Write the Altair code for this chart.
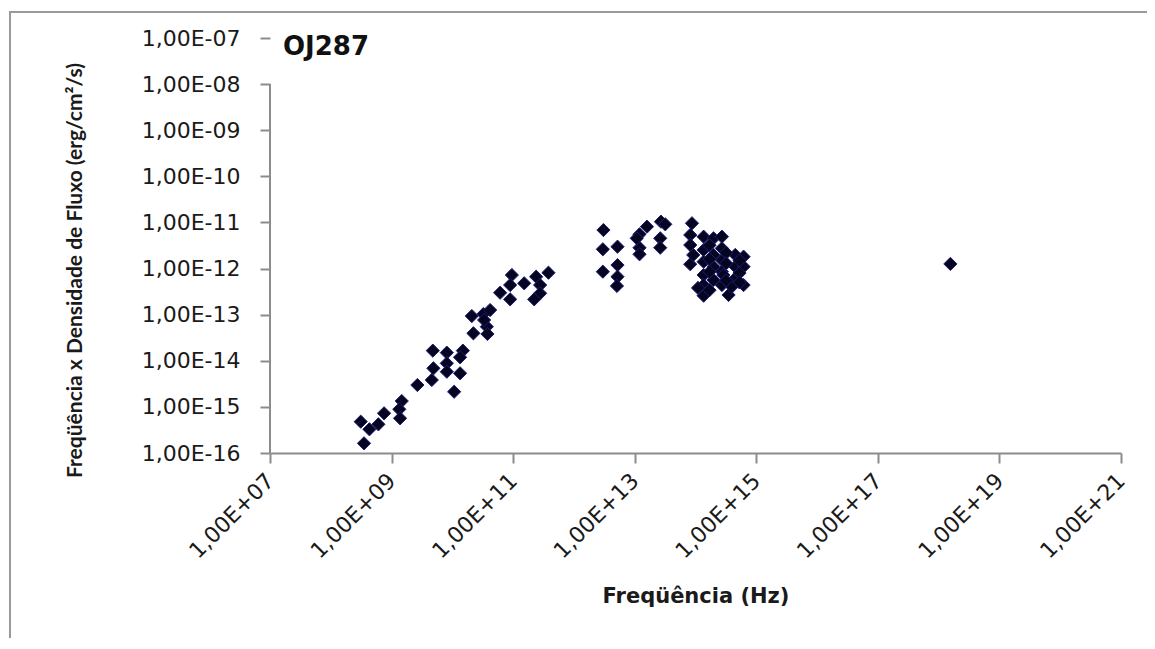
import altair as alt
import pandas as pd

# Frequency (Hz) and nu*F_nu (erg/cm^2/s)
freq = [
    3.11e8, 3.52e8, 4.32e8, 6.07e8, 7.53e8, 1.47e9, 1.34e9, 1.38e9, 2.66e9,
    4.59e9, 4.88e9, 4.77e9, 8.11e9, 8.11e9, 8.11e9, 1.49e10, 1.34e10, 1.34e10,
    1.07e10, 2.09e10, 3.24e10, 4.18e10, 2.22e10, 3.69e10, 3.78e10, 3.33e10,
    9.53e10, 8.93e10, 6.11e10, 8.93e10, 1.52e11, 2.39e11, 3.81e11, 2.78e11,
    2.78e11, 2.22e11,
    3.06e12, 2.99e12, 5.21e12, 2.99e12, 5.21e12, 5.21e12, 5.10e12, 1.20e13,
    1.59e13, 1.20e13, 1.20e13, 1.08e13, 2.70e13, 3.18e13, 2.63e13, 2.63e13,
    8.75e13, 8.20e13, 8.20e13, 1.36e14, 1.98e14, 2.72e14, 8.20e13, 1.36e14,
    1.36e14, 1.36e14, 1.36e14, 1.36e14, 1.98e14, 1.98e14, 1.98e14, 2.72e14,
    2.72e14, 2.72e14, 2.72e14, 3.50e14, 4.51e14, 4.51e14, 4.51e14, 6.18e14,
    6.18e14, 6.18e14, 3.97e14, 2.87e14, 9.18e13, 1.70e14, 1.70e14, 1.70e14,
    1.70e14, 3.20e14, 3.20e14, 3.20e14, 5.30e14, 5.30e14, 5.30e14, 1.10e14,
    1.56e18,
]
flux = [
    4.78e-16, 1.62e-16, 3.27e-16, 4.19e-16, 7.26e-16, 1.34e-15, 8.87e-16,
    5.66e-16, 2.98e-15, 3.83e-15, 6.87e-15, 1.66e-14, 1.50e-14, 8.81e-15,
    5.79e-15, 1.66e-14, 1.19e-14, 5.35e-15, 2.13e-15, 9.35e-14, 1.03e-13,
    1.26e-13, 3.94e-14, 5.48e-14, 3.81e-14, 7.66e-14,
    7.25e-13, 4.39e-13, 2.99e-13, 2.15e-13, 4.79e-13, 6.65e-13, 8.12e-13,
    4.39e-13, 2.90e-13, 2.15e-13,
    6.85e-12, 2.62e-12, 2.98e-12, 8.55e-13, 1.19e-12, 6.65e-13, 4.19e-13,
    5.53e-12, 8.09e-12, 2.83e-12, 2.04e-12, 4.53e-12, 1.04e-11, 9.12e-12,
    4.53e-12, 2.83e-12,
    9.60e-12, 5.35e-12, 3.24e-12, 4.91e-12, 4.53e-12, 4.91e-12, 1.24e-12,
    2.53e-12, 1.41e-12, 7.25e-13, 4.39e-13, 2.58e-13, 1.97e-12, 1.10e-12,
    5.65e-13, 2.75e-12, 1.53e-12, 8.55e-13, 4.39e-13, 2.67e-13, 1.97e-12,
    1.10e-12, 6.15e-13, 1.81e-12, 1.10e-12, 4.39e-13, 4.04e-13, 7.25e-13,
    1.97e-12, 3.20e-12, 1.60e-12, 8.50e-13, 3.40e-13, 2.20e-12, 1.30e-12,
    5.50e-13, 1.50e-12, 8.00e-13, 5.00e-13, 3.80e-13,
    1.26e-12,
]

x_ticks = [1e7, 1e9, 1e11, 1e13, 1e15, 1e17, 1e19, 1e21]
y_ticks = [1e-16, 1e-15, 1e-14, 1e-13, 1e-12, 1e-11, 1e-10, 1e-9, 1e-8, 1e-7]

df = pd.DataFrame({"freq": freq, "flux": flux})

W, H = 851, 415
GRAY = "#8c8c8c"
TXT = "#1a1a1a"
LABEL_FONT = "DejaVu Sans"

x_enc = alt.X(
    "freq:Q",
    scale=alt.Scale(type="log", domain=[1e7, 1e21], nice=False),
    axis=alt.Axis(
        values=x_ticks,
        labelExpr="'1,00E+' + (round(log(datum.value)/LN10) < 10 ? '0' : '') + round(log(datum.value)/LN10)",
        labelAngle=-45,
        labelAlign="right",
        labelBaseline="middle",
        labelFont=LABEL_FONT,
        labelFontSize=22,
        labelColor=TXT,
        labelPadding=14,
        labelOverlap=False,
        tickColor=GRAY,
        tickSize=10,
        tickWidth=2,
        domainColor=GRAY,
        domainWidth=2,
        grid=False,
        title="Freqüência (Hz)",
        titleFont=LABEL_FONT,
        titleFontSize=21,
        titleFontWeight="bold",
        titleColor=TXT,
        titleX=W / 2,
        titleY=143,
        titleBaseline="middle",
    ),
)

y_enc = alt.Y(
    "flux:Q",
    scale=alt.Scale(type="log", domain=[1e-16, 1e-7], nice=False),
    axis=alt.Axis(
        values=y_ticks,
        labelExpr="'1,00E-' + (-round(log(datum.value)/LN10) < 10 ? '0' : '') + (-round(log(datum.value)/LN10))",
        labelFont=LABEL_FONT,
        labelFontSize=22,
        labelColor=TXT,
        labelPadding=20,
        labelOverlap=False,
        tickColor=GRAY,
        tickSize=10,
        tickWidth=2,
        domain=False,
        grid=False,
        title="Freqüência x Densidade de Fluxo (erg/cm²/s)",
        titleFont="Lato",
        titleFontSize=21,
        titleFontWeight="bold",
        titleColor=TXT,
        titleAngle=270,
        titleX=-195,
        titleY=232,
        titleAlign="center",
        titleBaseline="middle",
    ),
)

points = alt.Chart(df).mark_point(
    shape="diamond", size=175, filled=True, fill="#05051f",
    stroke="#1c1c78", strokeWidth=1, opacity=1,
).encode(x=x_enc, y=y_enc)

axis_line = alt.Chart(pd.DataFrame({"a": [1]})).mark_rule(
    color=GRAY, strokeWidth=2
).encode(
    x=alt.value(0),
    y=alt.datum(1e-8, scale=alt.Scale(type="log", domain=[1e-16, 1e-7], nice=False)),
    y2=alt.datum(1e-16),
)

label = alt.Chart(pd.DataFrame({"t": ["OJ287"]})).mark_text(
    font=LABEL_FONT, fontSize=26, fontWeight="bold", color="#111111",
    align="left", baseline="middle",
).encode(text="t:N", x=alt.value(13), y=alt.value(9))

# outer chart-area border (only left and top edges are visible in the picture)
frame_left = alt.Chart(pd.DataFrame({"a": [1]})).mark_rule(
    color="#9a9a9a", strokeWidth=2
).encode(x=alt.value(-260), y=alt.value(-27), y2=alt.value(H + 400))
frame_top = alt.Chart(pd.DataFrame({"a": [1]})).mark_rule(
    color="#9a9a9a", strokeWidth=2
).encode(x=alt.value(-261), x2=alt.value(W + 200), y=alt.value(-26))

chart = alt.layer(frame_left, frame_top, axis_line, points, label).properties(
    width=W, height=H,
    background="white",
    autosize=alt.AutoSizeParams(type="none"),
    padding={"left": 262, "top": 30, "right": 26, "bottom": 185},
).configure_view(strokeWidth=0, stroke=None)

chart.save("out.html", embed_options={"renderer": "svg", "actions": False})
